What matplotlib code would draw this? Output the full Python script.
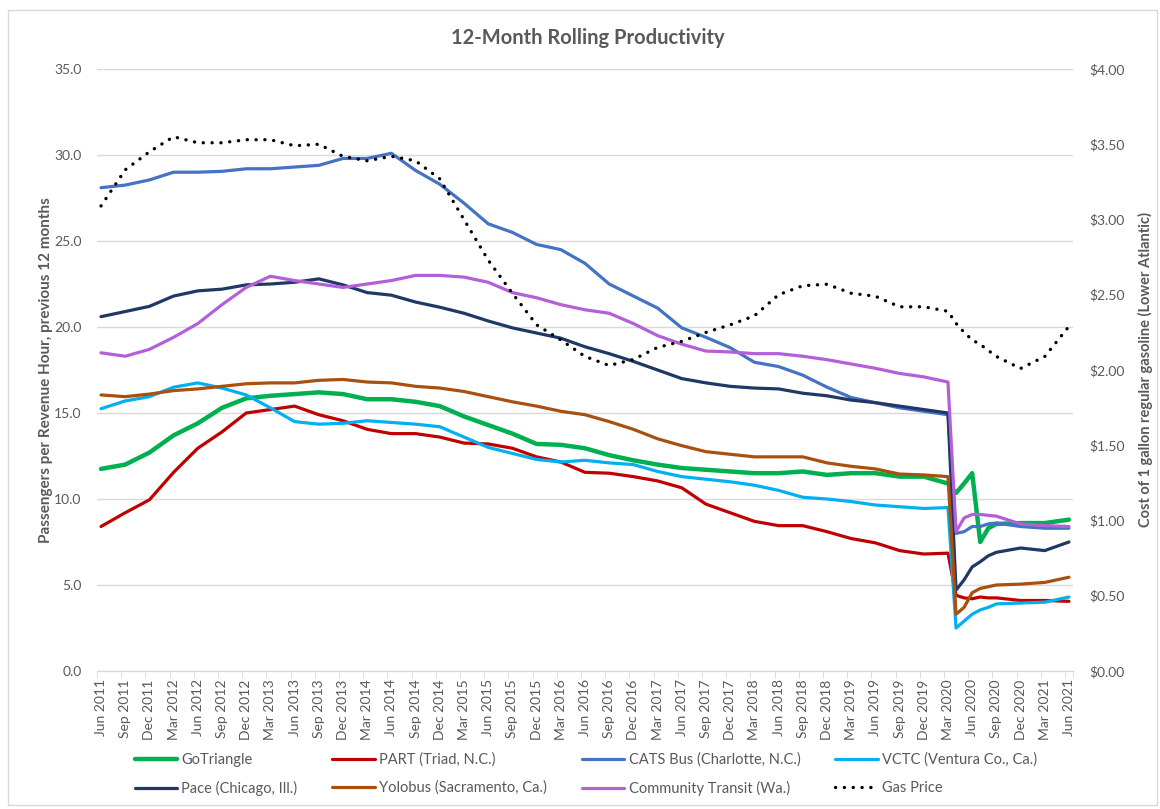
import matplotlib.pyplot as plt
import matplotlib.patches as mpatches
from matplotlib.ticker import FuncFormatter, FixedLocator
import pandas as pd

# month offsets from Jun 2011 (quarterly, monthly around the 2020 drop)
months = list(range(0, 106, 3)) + [106, 107, 108, 109, 110, 111, 114, 117, 120]

gotriangle = [11.75, 12.0, 12.7, 13.7, 14.4, 15.3, 15.85, 16.0, 16.1, 16.2, 16.1, 15.8,
              15.8, 15.65, 15.4, 14.8, 14.3, 13.8, 13.2, 13.15, 12.95, 12.55, 12.25, 12.0,
              11.8, 11.7, 11.6, 11.5, 11.5, 11.6, 11.4, 11.5, 11.5, 11.3, 11.3, 10.9,
              10.35, 10.9, 11.5, 7.5, 8.3, 8.55, 8.6, 8.6, 8.8]
part = [8.4, 9.2, 9.95, 11.55, 12.95, 13.9, 15.0, 15.2, 15.4, 14.9, 14.55, 14.05,
        13.8, 13.8, 13.6, 13.25, 13.2, 12.95, 12.45, 12.15, 11.55, 11.5, 11.3, 11.05,
        10.65, 9.7, 9.2, 8.7, 8.45, 8.45, 8.1, 7.7, 7.45, 7.0, 6.8, 6.85,
        4.4, 4.25, 4.2, 4.3, 4.25, 4.25, 4.1, 4.1, 4.05]
cats = [28.1, 28.25, 28.55, 29.0, 29.0, 29.05, 29.2, 29.2, 29.3, 29.4, 29.8, 29.8,
        30.1, 29.1, 28.3, 27.2, 26.0, 25.5, 24.8, 24.5, 23.7, 22.5, 21.8, 21.1,
        19.95, 19.4, 18.8, 17.95, 17.7, 17.2, 16.5, 15.9, 15.6, 15.3, 15.1, 14.9,
        8.0, 8.1, 8.4, 8.4, 8.55, 8.6, 8.4, 8.3, 8.3]
vctc = [15.25, 15.7, 15.95, 16.5, 16.75, 16.45, 16.05, 15.3, 14.5, 14.35, 14.4, 14.55,
        14.45, 14.35, 14.2, 13.6, 13.0, 12.65, 12.3, 12.15, 12.25, 12.1, 12.0, 11.6,
        11.3, 11.15, 11.0, 10.8, 10.5, 10.1, 10.0, 9.85, 9.65, 9.55, 9.45, 9.5,
        2.5, 2.9, 3.3, 3.55, 3.7, 3.9, 3.95, 4.0, 4.3]
pace = [20.6, 20.9, 21.2, 21.8, 22.1, 22.2, 22.45, 22.5, 22.6, 22.8, 22.45, 22.0,
        21.85, 21.45, 21.15, 20.8, 20.35, 19.95, 19.65, 19.35, 18.85, 18.45, 18.0, 17.5,
        17.0, 16.75, 16.55, 16.45, 16.4, 16.15, 16.0, 15.75, 15.6, 15.4, 15.2, 15.0,
        4.7, 5.3, 6.05, 6.35, 6.7, 6.9, 7.15, 7.0, 7.5]
yolobus = [16.05, 15.95, 16.1, 16.3, 16.4, 16.55, 16.7, 16.75, 16.75, 16.9, 16.95, 16.8,
           16.75, 16.55, 16.45, 16.25, 15.95, 15.65, 15.4, 15.1, 14.9, 14.5, 14.05, 13.5,
           13.1, 12.75, 12.6, 12.45, 12.45, 12.45, 12.1, 11.9, 11.75, 11.45, 11.4, 11.3,
           3.3, 3.7, 4.55, 4.8, 4.9, 5.0, 5.05, 5.15, 5.45]
community = [18.5, 18.3, 18.7, 19.4, 20.2, 21.3, 22.3, 22.95, 22.7, 22.5, 22.3, 22.5,
             22.7, 23.0, 23.0, 22.9, 22.6, 22.0, 21.7, 21.3, 21.0, 20.8, 20.2, 19.5,
             19.0, 18.6, 18.55, 18.45, 18.45, 18.3, 18.1, 17.85, 17.6, 17.3, 17.1, 16.8,
             8.1, 8.9, 9.1, 9.1, 9.05, 9.0, 8.55, 8.45, 8.4]
gas = [3.09, 3.33, 3.45, 3.55, 3.51, 3.51, 3.53, 3.53, 3.49, 3.5, 3.42, 3.39,
       3.42, 3.39, 3.27, 3.0, 2.73, 2.51, 2.3, 2.2, 2.09, 2.03, 2.07, 2.15,
       2.19, 2.25, 2.3, 2.36, 2.5, 2.56, 2.57, 2.51, 2.49, 2.42, 2.42, 2.39,
       2.31, 2.25, 2.2, 2.17, 2.13, 2.09, 2.01, 2.09, 2.29]

tick_labels = pd.date_range('2011-06-01', periods=41, freq='3MS').strftime('%b %Y').tolist()

plt.rcParams['font.family'] = ['Lato', 'DejaVu Sans']
grey = '#595959'

fig = plt.figure(figsize=(11.6, 8.09), dpi=100)
fig.patches.append(mpatches.Rectangle((0.007, 0.005), 0.99, 0.983, transform=fig.transFigure,
                                      fill=False, edgecolor='#D9D9D9', lw=1))
ax = fig.add_axes([0.0836, 0.1706, 0.8414, 0.7441])
ax2 = ax.twinx()

series = [
    (gotriangle, 'GoTriangle', '#00B050', 3.2),
    (part, 'PART (Triad, N.C.)', '#C00000', 2.3),
    (cats, 'CATS Bus (Charlotte, N.C.)', '#4472C4', 2.3),
    (vctc, 'VCTC (Ventura Co., Ca.)', '#00B0F0', 2.3),
    (pace, 'Pace (Chicago, Ill.)', '#1F3864', 2.3),
    (yolobus, 'Yolobus (Sacramento, Ca.)', '#A9500F', 2.3),
    (community, 'Community Transit (Wa.)', '#B45FD8', 2.3),
]
handles = {}
for vals, name, col, lw in series:
    h, = ax.plot(months, vals, color=col, lw=lw, label=name, solid_capstyle='round',
                 solid_joinstyle='round')
    handles[name] = h
hg, = ax2.plot(months, gas, color='black', lw=2.4, linestyle=(0, (0.05, 2.6)),
               dash_capstyle='round', label='Gas Price')
handles['Gas Price'] = hg

ax.set_xlim(-0.5, 120.5)
ax.set_ylim(0, 35)
ax2.set_ylim(0, 4)
ax.set_yticks(range(0, 36, 5))
ax2.set_yticks([i * 0.5 for i in range(9)])
ax.yaxis.set_major_formatter(FuncFormatter(lambda v, p: f'{v:.1f}'))
ax2.yaxis.set_major_formatter(FuncFormatter(lambda v, p: f'${v:.2f}'))
ax.grid(axis='y', color='#D9D9D9', lw=1)
ax.set_axisbelow(True)

ax.set_xticks(range(0, 121, 3))
ax.set_xticklabels(tick_labels, rotation=90, fontsize=10, color=grey)
ax.xaxis.set_minor_locator(FixedLocator([m - 0.5 for m in range(0, 121, 3)] + [120.5]))
ax.tick_params(axis='x', which='major', length=0, pad=6)
ax.tick_params(axis='x', which='minor', length=5, color='#D9D9D9')
ax.tick_params(axis='y', length=0, labelsize=10, labelcolor=grey, pad=11)
ax2.tick_params(axis='y', length=0, labelsize=10, labelcolor=grey, pad=12)

for a in (ax, ax2):
    for s in ['top', 'left', 'right']:
        a.spines[s].set_visible(False)
    a.spines['bottom'].set_color('#D9D9D9')

ax.set_ylabel('Passengers per Revenue Hour, previous 12 months', fontsize=11,
              fontweight='bold', color=grey, labelpad=1)
ax2.set_ylabel('Cost of 1 gallon regular gasoline (Lower Atlantic)', fontsize=10.5,
               fontweight='bold', color=grey, labelpad=9)
fig.text(0.507, 0.953, '12-Month Rolling Productivity', ha='center', va='center',
         fontsize=14.5, fontweight='bold', color=grey)

order = ['GoTriangle', 'Pace (Chicago, Ill.)', 'PART (Triad, N.C.)', 'Yolobus (Sacramento, Ca.)',
         'CATS Bus (Charlotte, N.C.)', 'Community Transit (Wa.)', 'VCTC (Ventura Co., Ca.)', 'Gas Price']
leg = fig.legend([handles[n] for n in order], order, ncol=4, loc='center',
                 bbox_to_anchor=(0.505, 0.043), frameon=False, fontsize=10.5,
                 handlelength=2.9, columnspacing=2.4, handletextpad=0.3, labelspacing=0.95)
for t in leg.get_texts():
    t.set_color(grey)

fig.savefig('out.png', dpi=100)
